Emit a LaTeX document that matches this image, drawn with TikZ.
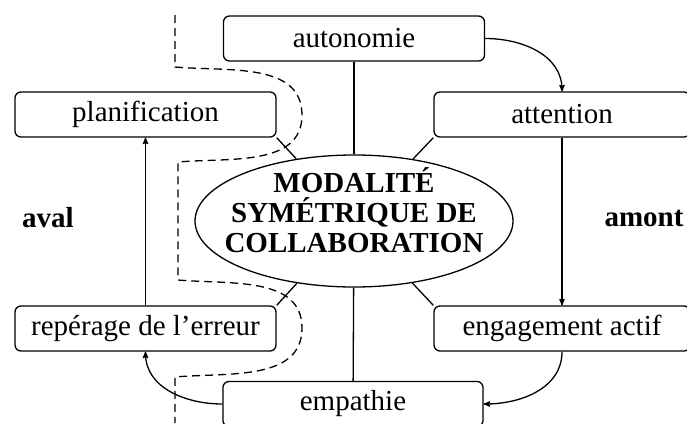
\documentclass[tikz,border=0pt]{standalone}
\usepackage{fontspec}
\setmainfont{Liberation Serif}
\usetikzlibrary{arrows,shapes.geometric}

\begin{document}
\begin{tikzpicture}[x=1pt,y=1pt,->,>=stealth',line width=1.3pt]
	\tikzstyle{box}=[draw,rounded corners=6pt,minimum width=261pt,minimum height=45pt,inner sep=0pt,font=\fontsize{29}{30}\selectfont]
	\tikzstyle{side}=[font=\fontsize{29}{30}\selectfont\bfseries]
	\useasboundingbox (0,-423) rectangle (687,0);

	\node[ellipse,draw,minimum width=318pt,minimum height=132pt,inner sep=0pt] (M) at (354,-221) {};
	\node[side,align=center,inner sep=0pt] (Mtext) at (354,-210) {MODALITÉ\\SYMÉTRIQUE DE\\COLLABORATION};

	\node[box] (auto) at (354,-38.5) {autonomie};
	\node[box] (plan) at (145.5,-114.5) {planification};
	\node[box,minimum width=256pt] (att) at (562,-114.5) {attention};
	\node[box] (rep) at (145.5,-328.5) {repérage de l’erreur};
	\node[box,minimum width=256pt] (eng) at (562,-328.5) {engagement actif};
	\node[box,minimum width=260pt] (emp) at (353,-404) {empathie};

	\node[side] (aval) at (48,-218) {aval};
	\node[side] (amont) at (644,-218) {amont};

	\path (auto) edge[-] (M);
        \path (emp) edge[-] (M);
        \path (plan.south east) edge[-] (M);
        \path (att.south west) edge[-] (M);
        \path (rep.north east) edge[-] (M);
        \path (eng.north west) edge[-] (M);

	\path (auto.east) edge[out=0,in=90] (att.north);
        \path (att.south) edge (eng.north);
        \path (eng.south) edge[out=-90,in=0] (emp.east);
        \path (emp.west) edge[out=180,in=-90] (rep.south);
        \path (rep.north) edge (plan.south);

	\draw[-,dash pattern=on 8pt off 5pt] (175,-15) -- (175,-67) to[out=-5,in=90] (302,-115) to[out=-90,in=5] (178,-162)
		-- (178,-280) to[out=-5,in=90] (302,-328) to[out=-90,in=5] (175,-377) -- (175,-423);
\end{tikzpicture}
\end{document}
